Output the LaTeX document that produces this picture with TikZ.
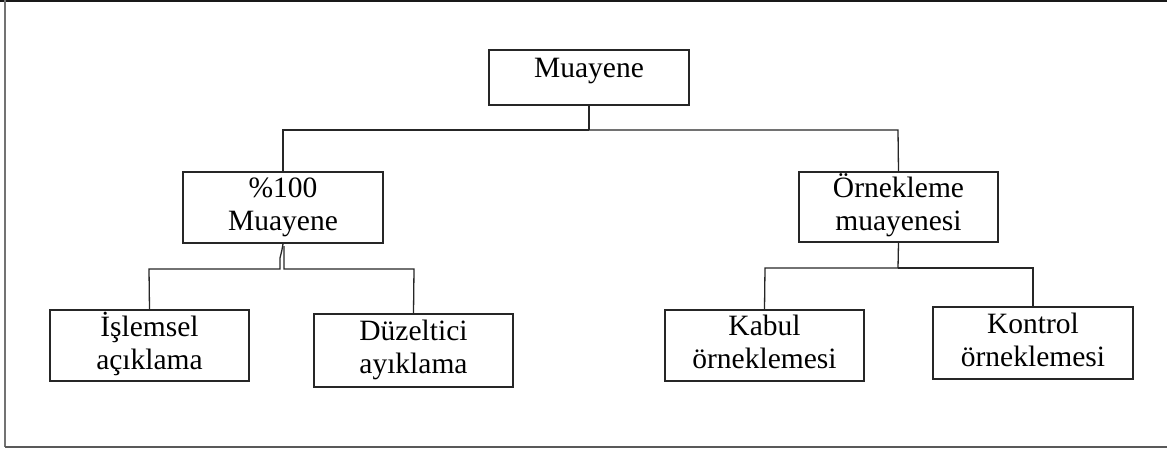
\documentclass[tikz,border=0pt]{standalone}
\usepackage{fontspec}
\setmainfont{Liberation Serif}
\begin{document}
\begin{tikzpicture}[x=1pt,y=-1pt,
  box/.style={draw=black!85,line width=1.5pt,rectangle,inner sep=0pt,
    align=center,font=\fontsize{29.5}{33}\selectfont},
  link/.style={draw=black!85,line width=1.3pt}]
\useasboundingbox (0,0) rectangle (1167,448);
% outer frame (open on the right)
\draw[line width=2pt,black!90] (0,1) -- (1167,1);
\draw[line width=2pt,black!55] (5,0) -- (5,447);
\draw[line width=2pt,black!65] (5,447) -- (1167,447);

% boxes; every line carries a strut so two-line labels sit centred
\node[box,minimum width=200pt,minimum height=55pt,text height=20pt,text depth=20pt]
  (top) at (589,77.5) {Muayene};
\node[box,minimum width=200pt,minimum height=71pt] (full) at (283,207.5)
  {\strut\%100\\\strut Muayene};
\node[box,minimum width=199pt,minimum height=70pt] (samp) at (898.5,207)
  {\strut Örnekleme\\\strut muayenesi};
\node[box,minimum width=199pt,minimum height=71pt] (isl) at (149.5,345.5)
  {\strut İşlemsel\\\strut açıklama};
\node[box,minimum width=199pt,minimum height=73pt] (duz) at (413.5,350.5)
  {\strut Düzeltici\\\strut ayıklama};
\node[box,minimum width=199pt,minimum height=71pt] (kab) at (764.5,345.5)
  {\strut Kabul\\\strut örneklemesi};
\node[box,minimum width=200pt,minimum height=72pt] (kon) at (1033,343)
  {\strut Kontrol\\\strut örneklemesi};

% junction points
\coordinate (j0) at (589,130);
\coordinate (j2) at (898,268);

% top level
\draw[link] (top.south) -- (j0);
\draw[link] (j0) -- (283,130) -- (full.north);
\draw[link] (j0) -- (898,130) -- (samp.north);

% under "%100 Muayene" (the left stroke has a small kink)
\draw[link] (full.south) .. controls (282,250) .. (280,258) -- (280,269) -- (149,269) -- (isl.north);
\draw[link] (284,246) -- (284,269) -- (414,269) -- (duz.north);

% under "Örnekleme muayenesi"
\draw[link] (samp.south) -- (j2);
\draw[link] (j2) -- (765,268) -- (kab.north);
\draw[link] (j2) -- (1033,268) -- (kon.north);
\end{tikzpicture}
\end{document}
